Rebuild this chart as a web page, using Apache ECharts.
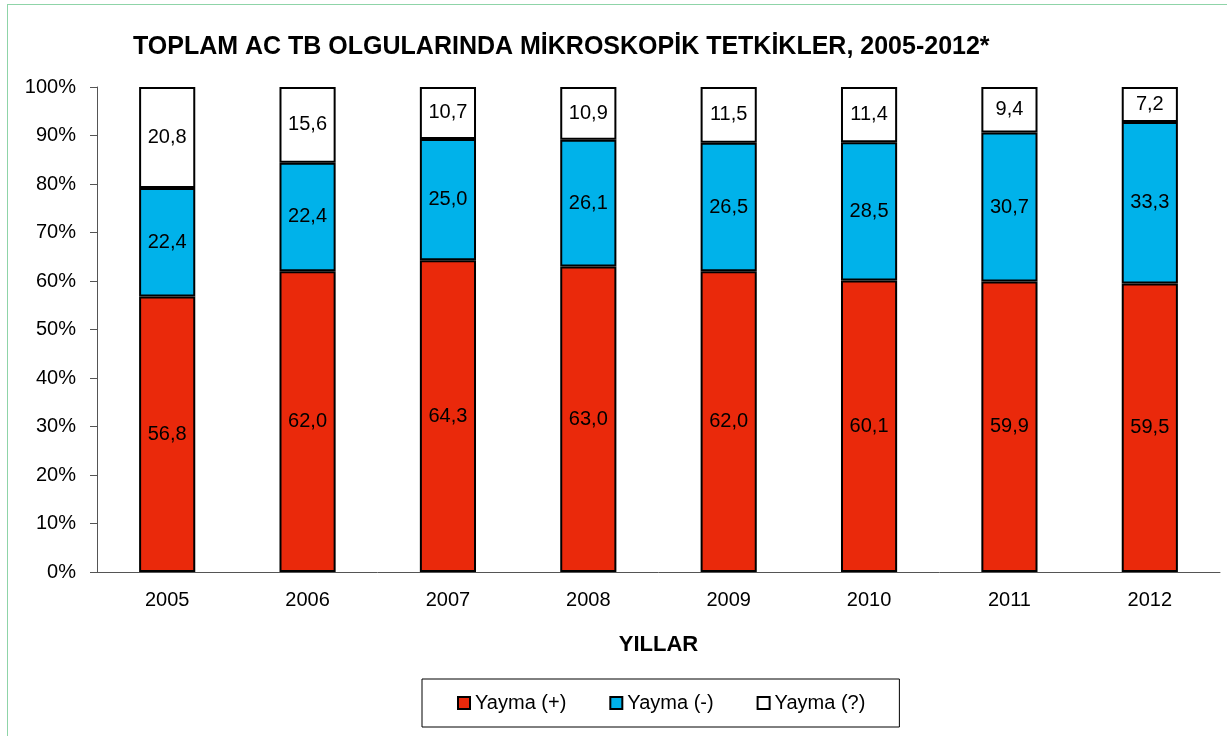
<!DOCTYPE html>
<html>
<head>
<meta charset="utf-8">
<script src="https://cdn.jsdelivr.net/npm/echarts@6/dist/echarts.min.js"></script>
<style>
	html, body { margin: 0; padding: 0; background: #fff; }
	#frame { position: absolute; left: 7px; top: 4px; width: 1240px; height: 760px; border: 1px solid #8fd4a8; }
	#main { position: absolute; left: 0; top: 0; width: 1227px; height: 736px; }
</style>
</head>
<body>
<div id="frame"></div>
<div id="main"></div>
<script>
var years = ['2005', '2006', '2007', '2008', '2009', '2010', '2011', '2012'];
var yaymaPos = [56.8, 62.0, 64.3, 63.0, 62.0, 60.1, 59.9, 59.5];
var yaymaNeg = [22.4, 22.4, 25.0, 26.1, 26.5, 28.5, 30.7, 33.3];
var yaymaUnk = [20.8, 15.6, 10.7, 10.9, 11.5, 11.4, 9.4, 7.2];

var fontName = 'Liberation Sans, Arial, sans-serif';

// etiket: virgullu ondalik
var lbl = {
	show : true,
	position : 'inside',
	color : '#000',
	fontSize : 20,
	fontFamily : fontName,
	formatter : function(p) {
		return p.value.toFixed(1).replace('.', ',');
	}
};

function makeSeries(name, data, color) {
	return {
		name : name,
		type : 'bar',
		stack : 'toplam',
		barWidth : '40%',
		data : data,
		itemStyle : {
			color : color,
			borderColor : '#000',
			borderWidth : 2
		},
		label : lbl
	};
}

echarts.init(document.getElementById('main')).setOption({
	animation : false,
	title : {
		text : 'TOPLAM AC TB OLGULARINDA MİKROSKOPİK TETKİKLER, 2005-2012*',
		left : 128,
		top : 30,
		textStyle : {
			fontFamily : fontName,
			fontWeight : 'bold',
			fontSize : 25,
			color : '#000'
		}
	},
	grid : {
		left : 97,
		right : 7,
		top : 87,
		bottom : 164
	},
	legend : {
		left : 422,
		top : 679,
		padding : [14, 34, 14, 35],
		borderColor : '#000',
		borderWidth : 1,
		icon : 'rect',
		itemWidth : 12,
		itemHeight : 12,
		itemGap : 43,
		textStyle : {
			fontFamily : fontName,
			fontSize : 20,
			color : '#000'
		},
		data : [ 'Yayma (+)', 'Yayma (-)', 'Yayma (?)' ]
	},
	xAxis : {
		type : 'category',
		data : years,
		name : 'YILLAR',
		nameLocation : 'middle',
		nameGap : 62,
		nameTextStyle : {
			fontFamily : fontName,
			fontWeight : 'bold',
			fontSize : 22,
			color : '#000'
		},
		axisLine : { lineStyle : { color : '#555', width : 1 } },
		axisTick : { length : 6, lineStyle : { color : '#555' } },
		axisLabel : {
			margin : 18,
			fontFamily : fontName,
			fontSize : 20,
			color : '#000'
		}
	},
	yAxis : {
		type : 'value',
		min : 0,
		max : 100,
		interval : 10,
		splitLine : { show : false },
		axisLine : { show : true, lineStyle : { color : '#555', width : 1 } },
		axisTick : { show : true, length : 7, lineStyle : { color : '#555' } },
		axisLabel : {
			margin : 21,
			formatter : '{value}%',
			fontFamily : fontName,
			fontSize : 20,
			color : '#000'
		}
	},
	series : [
		makeSeries('Yayma (+)', yaymaPos, '#EA290B'),
		makeSeries('Yayma (-)', yaymaNeg, '#00B2EA'),
		makeSeries('Yayma (?)', yaymaUnk, '#FFFFFF')
	]
});
</script>
</body>
</html>
